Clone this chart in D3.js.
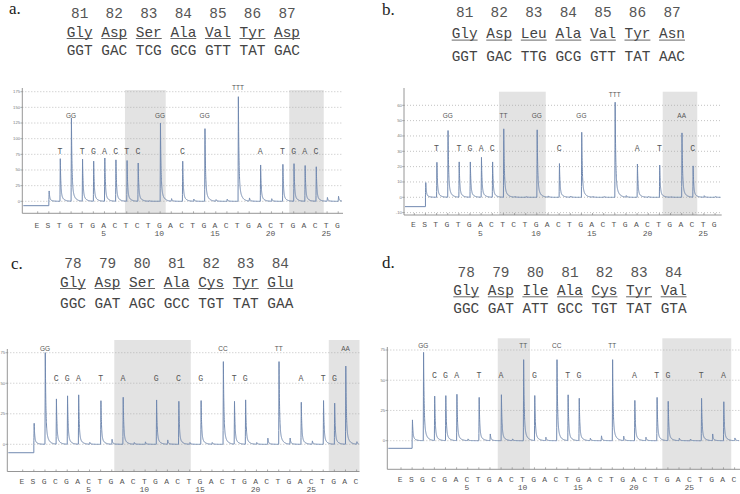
<!DOCTYPE html>
<html><head><meta charset="utf-8">
<script src="https://cdn.jsdelivr.net/npm/d3@7"></script>
<style>body{margin:0;background:#fff}svg{display:block}</style>
</head><body><svg id="chart" width="740" height="494"></svg>
<script>
// ---------------- DATA ----------------
const panelLetters = ["a.", "b.", "c.", "d."];

const abCodonNums = ["81","82","83","84","85","86","87"];
const cdCodonNums = ["78","79","80","81","82","83","84"];
const aAmino  = ["Gly","Asp","Ser","Ala","Val","Tyr","Asp"];
const aCodons = ["GGT","GAC","TCG","GCG","GTT","TAT","GAC"];
const bAmino  = ["Gly","Asp","Leu","Ala","Val","Tyr","Asn"];
const bCodons = ["GGT","GAC","TTG","GCG","GTT","TAT","AAC"];
const cAmino  = ["Gly","Asp","Ser","Ala","Cys","Tyr","Glu"];
const cCodons = ["GGC","GAT","AGC","GCC","TGT","TAT","GAA"];
const dAmino  = ["Gly","Asp","Ile","Ala","Cys","Tyr","Val"];
const dCodons = ["GGC","GAT","ATT","GCC","TGT","TAT","GTA"];

// dispensation order (E, S, then dispensations 1..N)
const abDispensation = ["E","S","T","G","T","G","A","C","T","C","T","G","A","C","T","G","A","C","T","G","A","C","T","G","A","C","T","G"];
const cdDispensation = ["E","S","G","C","G","A","C","T","G","A","C","T","G","A","C","T","G","A","C","T","G","A","C","T","G","A","C","T","G","A","C"];
const xNumberTicks = [5, 10, 15, 20, 25];

// peak heights: S, then dispensation 1..N
const aHeights = [16.5, 68, 133, 67, 64, 69, 66, 65, 61, 0.8, 125, 4, 64, 3.5, 116, 2.5, 3.5, 167, 5, 58, 4, 59, 60, 57, 55, 6, 8];
const bHeights = [9.6, 22.8, 43.5, 23, 23, 26, 23, 44.6, 0.5, 0.5, 44, 0.8, 22, 0.8, 42.4, 0.5, 0.5, 62, 1, 21.7, 0.5, 21, 0.3, 42, 20.4, 1, 0.5];
const cHeights = [17.2, 75, 37, 39.6, 40.4, 1.5, 35.7, 4, 38.5, 1.4, 2, 36.3, 3.5, 35.2, 1.4, 35.8, 1.4, 67.7, 35, 36.3, 1.4, 5, 67.7, 5, 34.4, 2.7, 35.8, 33.6, 64, 2];
const dHeights = [17.2, 73, 36.7, 37.2, 38.3, 1.4, 35.8, 5.5, 38, 1.4, 67, 37.2, 2.8, 67, 37.8, 35, 2, 4, 67, 3.6, 33.3, 2.8, 35.8, 32.5, 2, 1.4, 35, 5.5, 32.2, 2.2];

// level of trace before the run starts
const aStartLevel = -7, bStartLevel = -6.1, cStartLevel = -6.9, dStartLevel = -6.3;

// expected-sequence labels above peaks: [dispensation, text]
const aPeakLabels = [[1,"T"],[2,"GG"],[3,"T"],[4,"G"],[5,"A"],[6,"C"],[7,"T"],[8,"C"],[10,"GG"],[12,"C"],[14,"GG"],[17,"TTT"],[19,"A"],[21,"T"],[22,"G"],[23,"A"],[24,"C"]];
const bPeakLabels = [[1,"T"],[2,"GG"],[3,"T"],[4,"G"],[5,"A"],[6,"C"],[7,"TT"],[10,"GG"],[12,"C"],[14,"GG"],[17,"TTT"],[19,"A"],[21,"T"],[23,"AA"],[24,"C"]];
const cPeakLabels = [[1,"GG"],[2,"C"],[3,"G"],[4,"A"],[6,"T"],[8,"A"],[11,"G"],[13,"C"],[15,"G"],[17,"CC"],[18,"T"],[19,"G"],[22,"TT"],[24,"A"],[26,"T"],[27,"G"],[28,"AA"]];
const dPeakLabels = [[1,"GG"],[2,"C"],[3,"G"],[4,"A"],[6,"T"],[8,"A"],[10,"TT"],[11,"G"],[13,"CC"],[14,"T"],[15,"G"],[18,"TT"],[20,"A"],[22,"T"],[23,"G"],[26,"T"],[28,"A"]];

// shaded (variable) regions in dispensation units
const aShade = [[6.84, 10.5], [21.6, 24.7]];
const bShade = [[6.6, 10.8], [21.3, 24.4]];
const cShade = [[7.23, 14.1], [26.5, 29.3]];
const dShade = [[7.7, 10.6], [22.5, 28.7]];

// y-axis ticks
const aYTicks = [0, 25, 50, 75, 100, 125, 150, 175];
const bYTicks = [-10, 0, 10, 20, 30, 40, 50, 60];
const cYTicks = [0, 25, 50, 75];
const dYTicks = [0, 25, 50, 75];

// ---------------- LAYOUT ----------------
const panels = [
  { letter: panelLetters[0], nums: abCodonNums, amino: aAmino, codons: aCodons,
    disp: abDispensation, heights: aHeights, start: aStartLevel, labels: aPeakLabels, shade: aShade, yTicks: aYTicks,
    letterXY: [9, 14], hdrX: 66.7, rowsY: [12.7, 31.7, 50],
    axL: 22.3, axR: 343, axTop: 88, axBot: 213.3, shadeTop: 90,
    xE: 37.7, xStep: 11.13, yDom: [0, 175], yRng: [201.3, 91.7], lvl: [80.8, 136.7, 181.5],
    lblY: 224.8, numY: 233 },
  { letter: panelLetters[1], nums: abCodonNums, amino: bAmino, codons: bCodons,
    disp: abDispensation, heights: bHeights, start: bStartLevel, labels: bPeakLabels, shade: bShade, yTicks: bYTicks,
    letterXY: [382, 15], hdrX: 451.7, rowsY: [11.7, 33.3, 56],
    axL: 404, axR: 721.7, axTop: 88, axBot: 215, shadeTop: 91.7,
    xE: 414.3, xStep: 11.14, yDom: [0, 60], yRng: [197.3, 105.3], lvl: [32, 53, 66.7],
    lblY: 224.3, numY: 232.7 },
  { letter: panelLetters[2], nums: cdCodonNums, amino: cAmino, codons: cCodons,
    disp: cdDispensation, heights: cHeights, start: cStartLevel, labels: cPeakLabels, shade: cShade, yTicks: cYTicks,
    letterXY: [11, 269], hdrX: 60, rowsY: [263.3, 281.7, 303.3],
    axL: 7.3, axR: 359.5, axTop: 349, axBot: 471.5, shadeTop: 340,
    xE: 22.7, xStep: 11.13, yDom: [0, 75], yRng: [444.3, 352.7], lvl: [54, 78.6],
    lblY: 481.3, numY: 488.9 },
  { letter: panelLetters[3], nums: cdCodonNums, amino: dAmino, codons: dCodons,
    disp: cdDispensation, heights: dHeights, start: dStartLevel, labels: dPeakLabels, shade: dShade, yTicks: dYTicks,
    letterXY: [382, 268.3], hdrX: 453.3, rowsY: [271.7, 290, 308.3],
    axL: 387.3, axR: 740, axTop: 347, axBot: 469.3, shadeTop: 338.3,
    xE: 401, xStep: 11.12, yDom: [0, 75], yRng: [440.7, 350], lvl: [53.9, 78.3],
    lblY: 479.3, numY: 487.5 }
];

const svg = d3.select("#chart");
const MONO = "'Courier New', 'Nimbus Mono PS', FreeMono, 'Liberation Mono', monospace";
const SANS = "'Liberation Sans', Arial, sans-serif";
const SERIF = "'Liberation Serif', 'Times New Roman', serif";
const hdrSize = 14.4, cw = hdrSize * 0.6;

// peak shape (rendering of a single dispensation peak, unit height)
function peakShape(u) {
  const r = 0.03;
  if (u < 0) return 0;
  if (u < r) return u / r;
  return 0.8 * Math.exp(-(u - r) / 0.05) + 0.2 * Math.exp(-(u - r) / 0.22);
}

panels.forEach(P => {
  const g = svg.append("g");
  const n = P.heights.length - 1;
  const x = d3.scaleLinear().domain([-1, P.disp.length - 2]).range([P.xE, P.xE + (P.disp.length - 1) * P.xStep]);
  const y = d3.scaleLinear().domain(P.yDom).range(P.yRng);

  // header
  g.append("text").attr("x", P.letterXY[0]).attr("y", P.letterXY[1]).text(P.letter)
    .attr("font-family", SERIF).attr("font-size", 17).attr("fill", "#222");
  const hx = i => P.hdrX + i * 4 * cw;
  g.selectAll(null).data(P.nums).enter().append("text")
    .attr("x", (d, i) => hx(i) + 1.5 * cw).attr("y", P.rowsY[0]).attr("dy", "0.35em")
    .attr("text-anchor", "middle").attr("font-family", MONO).attr("font-size", hdrSize).attr("fill", "#555").text(d => d);
  g.selectAll(null).data(P.amino).enter().append("text")
    .attr("x", (d, i) => hx(i)).attr("y", P.rowsY[1]).attr("dy", "0.35em")
    .attr("font-family", MONO).attr("font-size", hdrSize).attr("fill", "#444").text(d => d);
  g.selectAll(null).data(P.amino).enter().append("line")
    .attr("x1", (d, i) => hx(i)).attr("x2", (d, i) => hx(i) + 3 * cw)
    .attr("y1", P.rowsY[1] + 6.8).attr("y2", P.rowsY[1] + 6.8)
    .attr("stroke", "#555").attr("stroke-width", 0.9);
  g.selectAll(null).data(P.codons).enter().append("text")
    .attr("x", (d, i) => hx(i)).attr("y", P.rowsY[2]).attr("dy", "0.35em")
    .attr("font-family", MONO).attr("font-size", hdrSize).attr("fill", "#444").text(d => d);

  // shaded regions
  g.selectAll(null).data(P.shade).enter().append("rect")
    .attr("x", d => x(d[0])).attr("width", d => Math.min(x(d[1]), P.axR) - x(d[0]))
    .attr("y", P.shadeTop).attr("height", P.axBot - P.shadeTop).attr("fill", "#e3e3e3");

  // grid lines
  g.selectAll(null).data(P.yTicks).enter().append("line")
    .attr("x1", P.axL).attr("x2", P.axR).attr("y1", d => y(d)).attr("y2", d => y(d))
    .attr("stroke", "#a8a8a8").attr("stroke-width", 0.7).attr("stroke-dasharray", "1,2");

  // axes
  g.append("line").attr("x1", P.axL).attr("x2", P.axL).attr("y1", P.axTop).attr("y2", P.axBot).attr("stroke", "#8a8a8a").attr("stroke-width", 0.9);
  g.append("line").attr("x1", P.axL).attr("x2", P.axR).attr("y1", P.axBot).attr("y2", P.axBot).attr("stroke", "#8a8a8a").attr("stroke-width", 0.9);
  g.selectAll(null).data(P.yTicks).enter().append("line")
    .attr("x1", P.axL - 1.8).attr("x2", P.axL).attr("y1", d => y(d)).attr("y2", d => y(d)).attr("stroke", "#8a8a8a").attr("stroke-width", 0.7);
  g.selectAll(null).data(P.yTicks).enter().append("text")
    .attr("x", P.axL - 2.2).attr("y", d => y(d)).attr("dy", "0.35em").attr("text-anchor", "end")
    .attr("font-family", SANS).attr("font-size", 4.2).attr("fill", "#777").text(d => d);
  const xIdx = d3.range(-1, P.disp.length - 1);
  g.selectAll(null).data(xIdx).enter().append("line")
    .attr("x1", d => x(d)).attr("x2", d => x(d)).attr("y1", P.axBot).attr("y2", P.axBot - 2)
    .attr("stroke", "#8a8a8a").attr("stroke-width", 0.7);
  g.selectAll(null).data(P.disp).enter().append("text")
    .attr("x", (d, i) => x(i - 1) - 0.8).attr("y", P.lblY).attr("dy", "0.35em").attr("text-anchor", "middle")
    .attr("font-family", MONO).attr("font-size", 8).attr("fill", "#555").text(d => d);
  g.selectAll(null).data(xNumberTicks).enter().append("text")
    .attr("x", d => x(d) - 0.8).attr("y", P.numY).attr("dy", "0.35em").attr("text-anchor", "middle")
    .attr("font-family", MONO).attr("font-size", 8).attr("fill", "#555").text(d => d);

  // trace
  const pts = [];
  const pStart = x.invert(P.axL + 1);
  pts.push([pStart, P.start]);
  pts.push([0, P.start]);
  const pEnd = x.invert(P.axR - 1);
  for (let t = 0; t <= pEnd + 1e-9; t += 0.005) {
    let v = 0;
    for (let k = 0; k <= n; k++) {
      const u = t - k;
      if (u >= 0 && u < 2) v += P.heights[k] * peakShape(u);
    }
    pts.push([t, v]);
  }
  const line = d3.line().x(d => x(d[0])).y(d => y(d[1]));
  g.append("path").attr("d", line(pts)).attr("fill", "none")
    .attr("stroke", "#7189b0").attr("stroke-width", 1).attr("stroke-linejoin", "round");

  // peak labels
  g.selectAll(null).data(P.labels).enter().append("text")
    .attr("x", d => x(d[0])).attr("y", d => y(P.lvl[d[1].length - 1])).attr("dy", "0.35em")
    .attr("text-anchor", "middle")
    .attr("font-family", d => d[1].length > 1 ? SANS : MONO)
    .attr("font-size", d => d[1].length > 1 ? 6.5 : 8.2)
    .attr("fill", "#555").text(d => d[1]);
});
</script>
</body></html>
